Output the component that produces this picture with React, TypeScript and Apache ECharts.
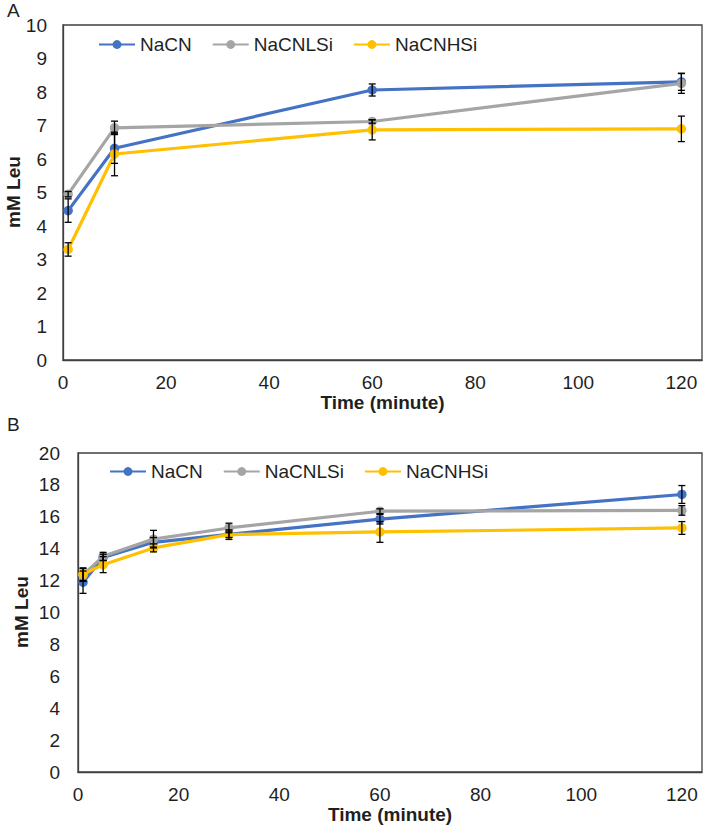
import React, { useEffect, useRef } from "react";
import * as echarts from "echarts";

const seriesNames = ["NaCN", "NaCNLSi", "NaCNHSi"];
const colors = ["#4472C4", "#A5A5A5", "#FFC000"];

// Panel A
const timesA = [1, 10, 60, 120];
const nacnA = [4.46, 6.32, 8.06, 8.3];
const nacnlsiA = [4.95, 6.93, 7.12, 8.26];
const nacnhsiA = [3.3, 6.15, 6.87, 6.9];
const nacnErrA = [0.35, 0.45, 0.18, 0.25];
const nacnlsiErrA = [0.08, 0.2, 0.05, 0.3];
const nacnhsiErrA = [0.2, 0.65, 0.3, 0.38];

// Panel B
const timesB = [1, 5, 15, 30, 60, 120];
const nacnB = [11.9, 13.45, 14.4, 14.9, 15.85, 17.4];
const nacnlsiB = [12.35, 13.52, 14.6, 15.3, 16.35, 16.4];
const nacnhsiB = [12.4, 13.0, 14.05, 14.88, 15.05, 15.3];
const nacnErrB = [0.7, 0.2, 0.3, 0.2, 0.3, 0.56];
const nacnlsiErrB = [0.4, 0.25, 0.55, 0.3, 0.15, 0.3];
const nacnhsiErrB = [0.4, 0.5, 0.25, 0.3, 0.65, 0.4];

const yTitle = "mM Leu";
const xTitle = "Time (minute)";

const FONT = "'Liberation Sans', Arial, sans-serif";
const TXT = "#1f1f1f";
const AXC = "#404040";

export default function App() {
  const ref = useRef<HTMLDivElement>(null);
  useEffect(() => {
    document.body.style.margin = "0";
    const chart = echarts.init(ref.current!, undefined, { renderer: "svg" });

    const valsA = [nacnA, nacnlsiA, nacnhsiA];
    const errsA = [nacnErrA, nacnlsiErrA, nacnhsiErrA];
    const valsB = [nacnB, nacnlsiB, nacnhsiB];
    const errsB = [nacnErrB, nacnlsiErrB, nacnhsiErrB];

    const lineSeries = (times: number[], vals: number[][], idx: number) =>
      vals.map((v, s) => ({
        type: "line",
        name: seriesNames[s],
        xAxisIndex: idx,
        yAxisIndex: idx,
        data: times.map((t, i) => [t, v[i]]),
        symbol: "circle",
        symbolSize: 9.5,
        color: colors[s],
        lineStyle: { width: 3.2, color: colors[s] },
        itemStyle: { color: colors[s] },
        z: 2 + s,
      }));

    const errData = (times: number[], vals: number[][], errs: number[][]) => {
      const out: number[][] = [];
      vals.forEach((v, s) =>
        times.forEach((t, i) => out.push([t, v[i] - errs[s][i], v[i] + errs[s][i]]))
      );
      return out;
    };

    const renderErr = (params: any, api: any) => {
      const x = api.value(0);
      const lo = api.coord([x, api.value(1)]);
      const hi = api.coord([x, api.value(2)]);
      const w = 3.5;
      const style = { stroke: "#000", lineWidth: 1.3 };
      return {
        type: "group",
        children: [
          { type: "line", shape: { x1: lo[0], y1: lo[1], x2: hi[0], y2: hi[1] }, style },
          { type: "line", shape: { x1: lo[0] - w, y1: lo[1], x2: lo[0] + w, y2: lo[1] }, style },
          { type: "line", shape: { x1: hi[0] - w, y1: hi[1], x2: hi[0] + w, y2: hi[1] }, style },
        ],
      };
    };

    const errSeries = (times: number[], vals: number[][], errs: number[][], idx: number) => ({
      type: "custom",
      name: "err" + idx,
      xAxisIndex: idx,
      yAxisIndex: idx,
      data: errData(times, vals, errs),
      encode: { x: 0, y: [1, 2] },
      renderItem: renderErr,
      z: 10,
    });

    const xAxis = (idx: number) => ({
      type: "value",
      gridIndex: idx,
      min: 0,
      max: 124,
      interval: 20,
      splitLine: { show: false },
      axisTick: { show: false },
      axisLine: { show: true, lineStyle: { color: AXC, width: 1.3 } },
      axisLabel: {
        fontSize: 19,
        fontFamily: FONT,
        color: TXT,
        margin: 13,
        formatter: (v: number) => (v % 20 === 0 ? String(v) : ""),
      },
      name: xTitle,
      nameLocation: "middle",
      nameGap: 33,
      nameTextStyle: { fontSize: 19, fontWeight: "bold", fontFamily: FONT, color: TXT },
    });

    const yAxis = (idx: number, max: number, interval: number, margin: number) => ({
      type: "value",
      gridIndex: idx,
      min: 0,
      max,
      interval,
      splitLine: { show: false },
      axisTick: { show: false },
      axisLine: { show: true, lineStyle: { color: AXC, width: 1.3 } },
      axisLabel: { fontSize: 19, fontFamily: FONT, color: TXT, margin },
    });

    const legendBase = {
      data: seriesNames,
      orient: "horizontal",
      itemWidth: 36,
      itemHeight: 11,
      itemGap: 20,
      textStyle: { fontSize: 19, fontFamily: FONT, color: TXT },
    };

    const yName = (x: number, y: number) => ({
      type: "text",
      x,
      y,
      rotation: Math.PI / 2,
      style: {
        text: yTitle,
        fontSize: 19,
        fontWeight: "bold",
        fontFamily: FONT,
        fill: TXT,
        textAlign: "center",
        textVerticalAlign: "middle",
      },
    });

    chart.setOption({
      animation: false,
      backgroundColor: "#fff",
      textStyle: { fontFamily: FONT },
      grid: [
        { left: 63, top: 25, right: 7, height: 335, show: true, borderColor: AXC, borderWidth: 1.3, backgroundColor: "transparent", containLabel: false, outerBoundsMode: "none" },
        { left: 78, top: 453, right: 7, height: 319, show: true, borderColor: AXC, borderWidth: 1.3, backgroundColor: "transparent", containLabel: false, outerBoundsMode: "none" },
      ],
      legend: [
        { ...legendBase, left: 93, top: 30 },
        { ...legendBase, left: 104, top: 457 },
      ],
      xAxis: [xAxis(0), xAxis(1)],
      yAxis: [yAxis(0, 10, 1, 16), yAxis(1, 20, 2, 18)],
      graphic: [
        { type: "text", left: 7, top: 1, style: { text: "A", fontSize: 19, fontFamily: FONT, fill: TXT } },
        { type: "text", left: 7, top: 415, style: { text: "B", fontSize: 19, fontFamily: FONT, fill: TXT } },
        yName(13, 192),
        yName(21, 612),
      ],
      series: [
        ...lineSeries(timesA, valsA, 0),
        errSeries(timesA, valsA, errsA, 0),
        ...lineSeries(timesB, valsB, 1),
        errSeries(timesB, valsB, errsB, 1),
      ],
    });
    return () => chart.dispose();
  }, []);
  return <div ref={ref} style={{ width: 709, height: 833 }} />;
}
